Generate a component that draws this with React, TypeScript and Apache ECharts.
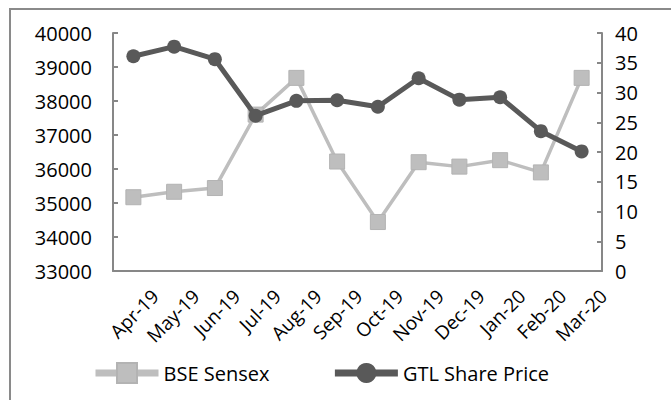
import React, { useEffect, useRef } from "react";
import * as echarts from "echarts";

const categories = ["Apr-19", "May-19", "Jun-19", "Jul-19", "Aug-19", "Sep-19", "Oct-19", "Nov-19", "Dec-19", "Jan-20", "Feb-20", "Mar-20"];
const bseSensex = [35170, 35330, 35440, 37600, 38680, 36220, 34440, 36200, 36070, 36260, 35900, 38680];
const gtlSharePrice = [36.1, 37.7, 35.6, 26.1, 28.6, 28.7, 27.6, 32.4, 28.8, 29.2, 23.5, 20.1];
const leftTicks = { min: 33000, max: 40000, interval: 1000 };
const rightTicks = { min: 0, max: 40, interval: 5 };

const FONT = "Open Sans";
const AXIS = "#878787";
const LIGHT = "#BEBEBE";
const DARK = "#595959";

export default function App() {
  const ref = useRef<HTMLDivElement>(null);
  useEffect(() => {
    if (!ref.current) return;
    const chart = echarts.init(ref.current, null, { renderer: "svg" });
    chart.setOption({
      animation: false,
      backgroundColor: "#ffffff",
      textStyle: { fontFamily: FONT },
      graphic: [
        {
          type: "rect",
          shape: { x: 10, y: 9, width: 720, height: 440 },
          style: { fill: "none", stroke: "#8a8a8a", lineWidth: 2 },
          silent: true,
        },
      ],
      grid: { left: 113, right: 69, top: 33, bottom: 129 },
      legend: {
        left: 92,
        top: 362,
        padding: 0,
        itemWidth: 63,
        itemHeight: 25,
        itemGap: 62,
        textStyle: { fontFamily: FONT, fontSize: 20, color: "#000" },
        lineStyle: { width: 7 },
        data: ["BSE Sensex", "GTL Share Price"],
      },
      xAxis: {
        type: "category",
        data: categories,
        boundaryGap: true,
        axisLine: { lineStyle: { color: AXIS, width: 2 } },
        axisTick: { inside: true, length: 5, lineStyle: { color: AXIS, width: 2 } },
        axisLabel: {
          rotate: 45,
          interval: 0,
          margin: 0,
          align: "right",
          verticalAlign: "top",
          lineHeight: 62,
          fontFamily: FONT,
          fontSize: 19,
          color: "#000",
        },
      },
      yAxis: [
        {
          type: "value",
          min: leftTicks.min,
          max: leftTicks.max,
          interval: leftTicks.interval,
          splitLine: { show: false },
          axisLine: { show: true, lineStyle: { color: AXIS, width: 2 } },
          axisTick: { show: true, inside: true, length: 5, lineStyle: { color: AXIS, width: 2 } },
          axisLabel: { margin: 21, fontFamily: FONT, fontSize: 20, color: "#000", formatter: (v: number) => String(v) },
        },
        {
          type: "value",
          min: rightTicks.min,
          max: rightTicks.max,
          interval: rightTicks.interval,
          splitLine: { show: false },
          axisLine: { show: true, lineStyle: { color: AXIS, width: 2 } },
          axisTick: { show: true, inside: true, length: 5, lineStyle: { color: AXIS, width: 2 } },
          axisLabel: { margin: 13, fontFamily: FONT, fontSize: 20, color: "#000", formatter: (v: number) => String(v) },
        },
      ],
      series: [
        {
          name: "BSE Sensex",
          type: "line",
          yAxisIndex: 0,
          data: bseSensex,
          symbol: "rect",
          symbolSize: 15,
          z: 2,
          lineStyle: { color: LIGHT, width: 3.5 },
          itemStyle: { color: LIGHT, borderColor: "#B3B3B3", borderWidth: 1 },
        },
        {
          name: "GTL Share Price",
          type: "line",
          yAxisIndex: 1,
          data: gtlSharePrice,
          symbol: "circle",
          symbolSize: 14,
          z: 3,
          lineStyle: { color: DARK, width: 5 },
          itemStyle: { color: DARK },
        },
      ],
    });
    return () => chart.dispose();
  }, []);
  return <div ref={ref} style={{ position: "absolute", left: 0, top: 0, width: 671, height: 400 }} />;
}
